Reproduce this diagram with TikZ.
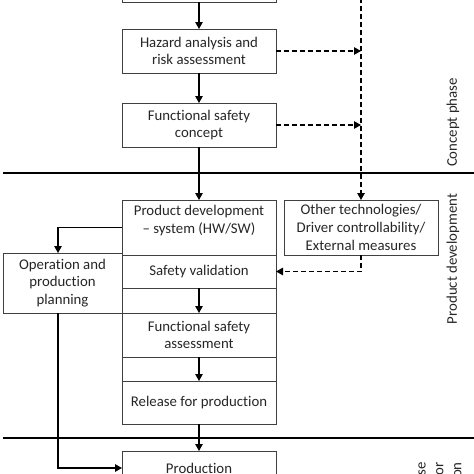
\documentclass[tikz,border=0pt]{standalone}
\usepackage{fontspec}
\setmainfont{Carlito}[Ligatures=NoCommon]
\usetikzlibrary{positioning,calc,arrows.meta}

\tikzset{
  txt/.style={font=\fontsize{14.8}{17.8}\selectfont, text=black!85, align=center},
  box/.style={txt, draw=black!75, line width=0.8pt, minimum width=154pt,
              inner sep=2pt, outer sep=0pt},
  flow/.style={-{Triangle[length=7pt,width=7.5pt]}, line width=1.2pt},
  dflow/.style={flow, dash pattern=on 5pt off 3pt},
  phase/.style={line width=2.6pt},
  phaselabel/.style={txt, rotate=90, inner sep=2pt}
}

\begin{document}
\begin{tikzpicture}[x=1pt,y=-1pt]
\useasboundingbox (0,0) rectangle (474,474);
\clip (0,0) rectangle (474,474);

% Column of the concept phase (first box is cut by the page)
\node[box, minimum height=44pt] (item) at (199,-20) {};
\node[box, minimum height=44pt] (hara) at (199,51)  {Hazard analysis and\\risk assessment};
\node[box, minimum height=44pt] (fsc)  at (199,125) {Functional safety\\concept};

% Column of the product development, boxes stacked on each other
\node[box, minimum height=55pt] (pdsys) at (199,227.5) {};
\node[txt, inner sep=2pt, below=3pt of pdsys.north] (pdsystext)
     {Product development\\– system (HW/SW)};
\node[box, minimum height=33pt, below=0pt of pdsys] (sval) {Safety validation};
\node[box, minimum height=25pt, below=0pt of sval]  (gapa) {};
\node[box, minimum height=44pt, below=0pt of gapa]  (fsa)  {Functional safety\\assessment};
\node[box, minimum height=24pt, below=0pt of fsa]   (gapb) {};
\node[box, minimum height=43pt, below=0pt of gapb]  (rel)  {Release for production};

% Production (cut by the page)
\node[box, minimum height=34pt] (prod) at (199,468) {Production};

% Side boxes
\node[box, minimum height=55pt] (other) at (361,227.5)
     {Other technologies/\\Driver controllability/\\External measures};
\node[box, minimum width=119pt, minimum height=60pt] (opp) at (62.5,283)
     {Operation and\\production\\planning};

% Phase separators
\coordinate (sepal) at (3,173);   \coordinate (separ) at (474,173);
\coordinate (sepbl) at (3,438);   \coordinate (sepbr) at (474,438);
\draw[phase] (sepal) -- (separ)
             (sepbl) -- (sepbr);

% Main flow
\draw[flow] (item) -- (hara);
\draw[flow] (hara) -- (fsc);
\draw[flow] (fsc)  -- (pdsys);
\draw[flow] (sval) -- (fsa);
\draw[flow] (fsa)  -- (rel);
\draw[flow] (rel)  -- (prod);

% Operation and production planning branch
\draw[flow] (pdsys.west) -| ($(opp.north)+(-4.5,0)$);
\draw[flow] ($(opp.south)+(-4.5,0)$) |- (prod.west);

% Dashed links to the other technologies
\coordinate (dtop) at (361,-10);
\draw[dflow] (dtop) -- (other.north);
\draw[dflow] (hara.east) -- (hara.east -| dtop);
\draw[dflow] (fsc.east)  -- (fsc.east -| dtop);
\draw[dflow] (other.south) |- (sval.east);

% Names of the phases
\node[phaselabel] (lconcept) at (453,122.5) {Concept phase};
\node[phaselabel] (lproduct) at (453,259)   {Product development};
\node[phaselabel, anchor=east, align=right] (lafter) at (439.5,460)
     {After release\\for\\production};
\end{tikzpicture}
\end{document}
